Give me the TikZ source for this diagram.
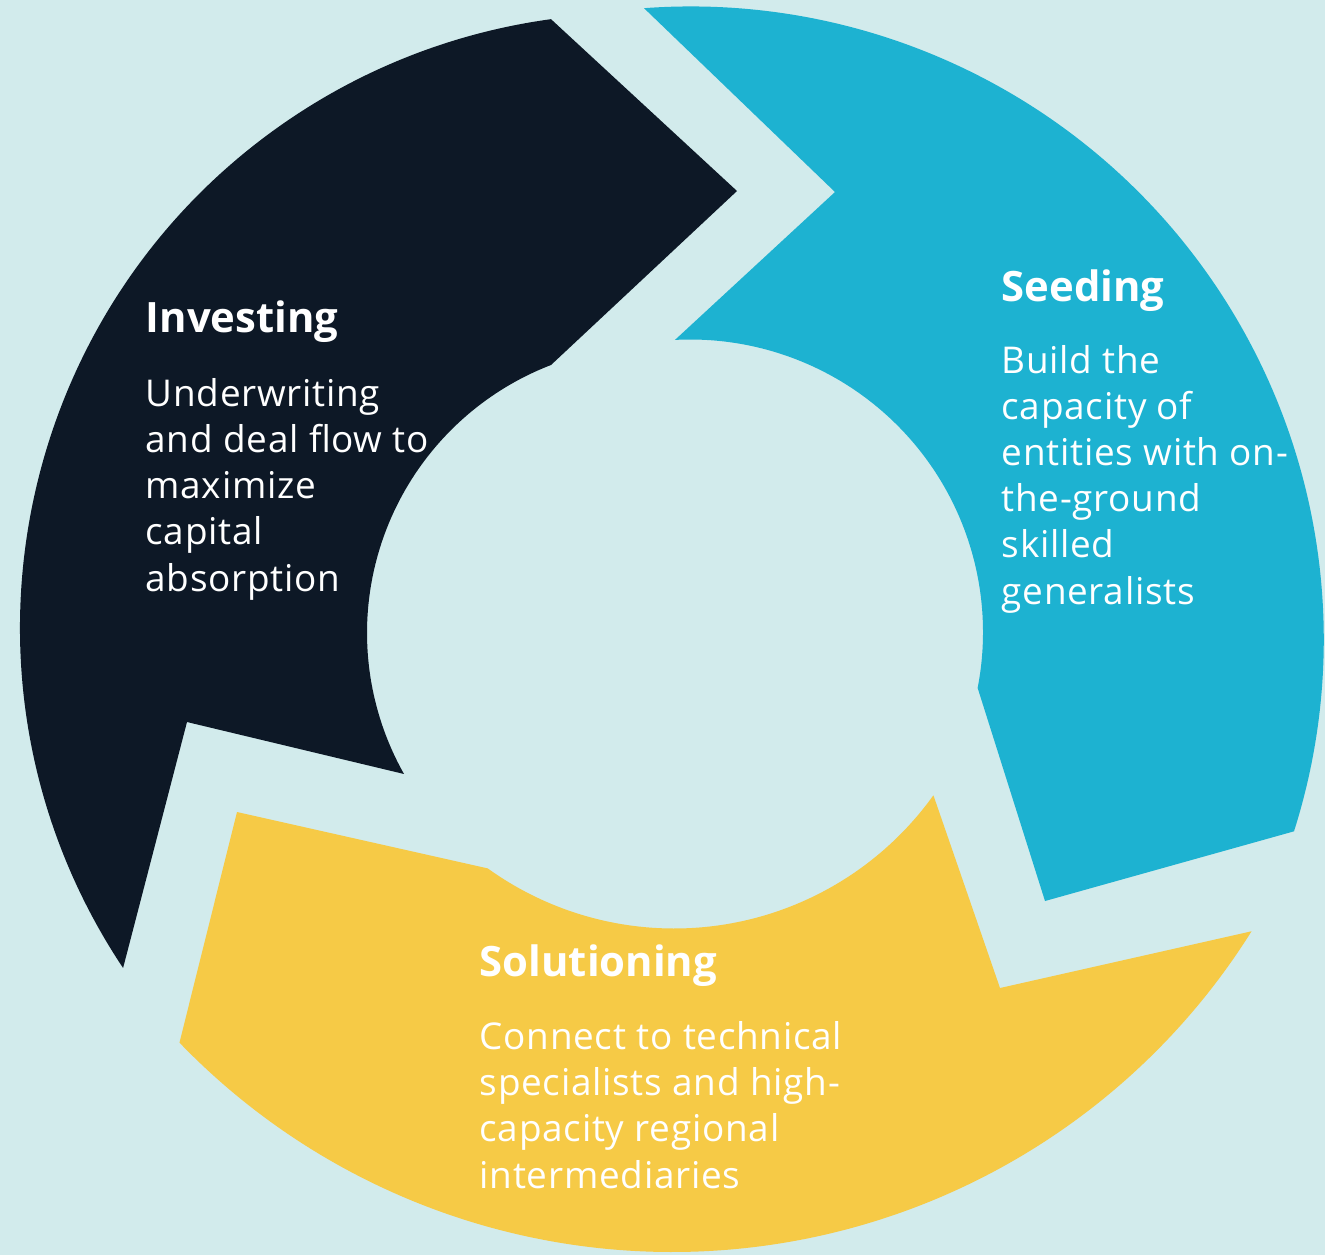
\documentclass[tikz,border=0pt]{standalone}
\usepackage{fontspec}
\setmainfont{Open Sans}
\newfontfamily\bodyfont{Open Sans}[LetterSpace=2.0]
\definecolor{bgcol}{RGB}{210,235,236}
\definecolor{navycol}{RGB}{13,24,38}
\definecolor{cyancol}{RGB}{29,178,209}
\definecolor{goldcol}{RGB}{246,202,70}

\begin{document}
\begin{tikzpicture}[
    title/.style={anchor=base west, inner sep=0pt, text=white, font=\fontsize{11.9}{14}\selectfont\bfseries},
    body/.style={anchor=base west, inner sep=0pt, text=white, align=left, font=\bodyfont\fontsize{10.5}{13.1}\selectfont}
]
    % Background
    \fill[bgcol] (0,0) rectangle (13.25,-12.55);
    \useasboundingbox (0,0) rectangle (13.25,-12.55);
    % Investing arrow
    \fill[navycol] ([shift={(6.34,-6.275)}]213.68:6.14) arc[start angle=213.68, end angle=97.77, radius=6.14]
        -- (7.37,-1.91)
        -- ([shift={(6.542,-6.33)}]111.06:2.872) arc[start angle=111.06, end angle=209.4, radius=2.872]
        -- (1.87,-7.22) -- cycle;
    % Seeding arrow
    \fill[cyancol] ([shift={(6.908,-6.394)}]94.24:6.33) arc[start angle=94.24, end angle=-17.65, radius=6.33]
        -- (10.45,-9.01)
        -- ([shift={(6.903,-6.322)}]-10.98:2.927) arc[start angle=-10.98, end angle=93.0, radius=2.927]
        -- (8.35,-1.92) -- cycle;
    % Solutioning arrow
    \fill[goldcol] ([shift={(6.72,-5.68)}]-32.08:6.84) arc[start angle=-32.08, end angle=-136.06, radius=6.84]
        -- (2.37,-8.12)
        -- ([shift={(6.741,-6.095)}]-125.75:3.19) arc[start angle=-125.75, end angle=-35.62, radius=3.19]
        -- (10.00,-9.88) -- cycle;
    % Labels (body nodes sit on their last baseline)
    \node[title] (invtitle) at (1.45,-3.32) {Investing};
    \node[body] (invtext) at (1.45,-5.91) {Underwriting\\and deal flow to\\maximize\\capital\\absorption};
    \node[title] (seedtitle) at (10.01,-3.01) {Seeding};
    \node[body] (seedtext) at (10.01,-6.04) {Build the\\capacity of\\entities with on-\\the-ground\\skilled\\generalists};
    \node[title] (soltitle) at (4.79,-9.76) {Solutioning};
    \node[body] (soltext) at (4.79,-11.88) {Connect to technical\\specialists and high-\\capacity regional\\intermediaries};
\end{tikzpicture}
\end{document}
